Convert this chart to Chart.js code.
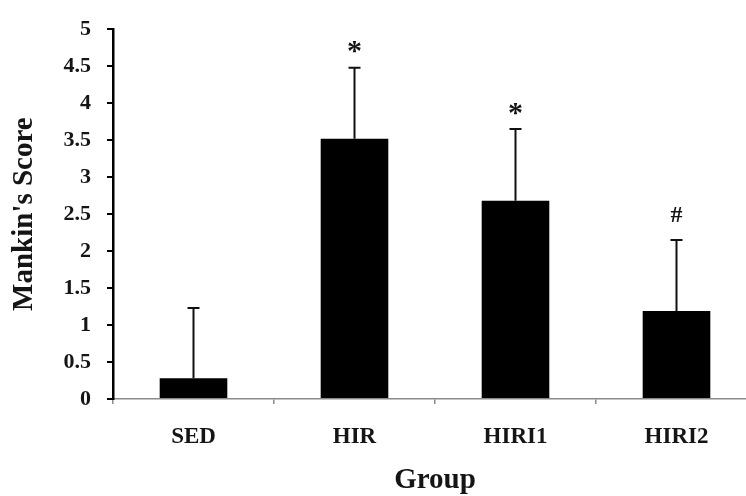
<!DOCTYPE html>
<html>
<head>
<meta charset="utf-8">
<script src="https://cdn.jsdelivr.net/npm/chart.js@4/dist/chart.umd.min.js"></script>
<style>
  html, body { margin: 0; padding: 0; background: #fff; overflow: hidden; }
  #wrap { width: 746px; height: 496px; overflow: hidden; }
</style>
</head>
<body>
<div id="wrap"><canvas id="chart" width="760" height="496"></canvas></div>
<script>
// values
const groups = ['SED', 'HIR', 'HIRI1', 'HIRI2'];
const scores = [0.28, 3.52, 2.68, 1.19];
const errors = [0.95, 0.96, 0.97, 0.96];
const marks = ['', '*', '*', '#'];
const yTicks = [0, 0.5, 1, 1.5, 2, 2.5, 3, 3.5, 4, 4.5, 5];

const serif = '"Liberation Serif", "Times New Roman", serif';
const ink = '#151515';

// error bars and significance marks on top of the bars
const errorBars = {
    id: 'errorBars',
    afterDatasetsDraw(chart) {
        const ctx = chart.ctx;
        const y = chart.scales.y;
        const meta = chart.getDatasetMeta(0);
        ctx.save();
        ctx.strokeStyle = '#111';
        ctx.lineWidth = 2;
        meta.data.forEach((bar, i) => {
            const top = y.getPixelForValue(scores[i] + errors[i]);
            ctx.beginPath();
            ctx.moveTo(bar.x, bar.y);
            ctx.lineTo(bar.x, top);
            ctx.moveTo(bar.x - 6, top);
            ctx.lineTo(bar.x + 6, top);
            ctx.stroke();
            if (marks[i]) {
                ctx.fillStyle = ink;
                ctx.textAlign = 'center';
                ctx.textBaseline = 'middle';
                if (marks[i] === '*') {
                    ctx.font = 'bold 30px ' + serif;
                    ctx.fillText(marks[i], bar.x, top - 15);
                } else {
                    ctx.font = 'bold 24px ' + serif;
                    ctx.fillText(marks[i], bar.x, top - 24);
                }
            }
        });
        ctx.restore();
    }
};

new Chart(document.getElementById('chart'), {
    type: 'bar',
    data: {
        labels: groups,
        datasets: [{
            data: scores,
            backgroundColor: '#000',
            borderWidth: 0,
            categoryPercentage: 1,
            barPercentage: 0.42
        }]
    },
    options: {
        responsive: false,
        animation: false,
        layout: { padding: { top: 21, right: 3, left: 0, bottom: 0 } },
        plugins: { legend: { display: false }, tooltip: { enabled: false } },
        scales: {
            x: {
                afterFit: s => { s.height = 97; },
                border: { color: '#8a8a8a', width: 1.5 },
                grid: { offset: true, drawOnChartArea: false, drawTicks: true, tickLength: 5, color: '#8a8a8a', lineWidth: 1.5 },
                ticks: { color: ink, padding: 19, font: { family: serif, size: 23, weight: 'bold' } },
                title: {
                    display: true, text: 'Group', color: ink,
                    padding: { top: 0, bottom: -2 },
                    font: { family: serif, size: 29, weight: 'bold' }
                }
            },
            y: {
                min: 0, max: 5,
                afterFit: s => { s.width = 113; },
                afterBuildTicks: s => { s.ticks = yTicks.map(v => ({ value: v })); },
                border: { color: '#000', width: 2.5 },
                grid: { drawOnChartArea: false, drawTicks: true, tickLength: 6, color: '#000', lineWidth: 2 },
                ticks: {
                    color: ink, padding: 16,
                    font: { family: serif, size: 22, weight: 'bold' },
                    callback: v => String(v)
                },
                title: {
                    display: true, text: "Mankin's Score", color: ink,
                    padding: { top: 7, bottom: 0 },
                    font: { family: serif, size: 29, weight: 'bold' }
                }
            }
        }
    },
    plugins: [errorBars]
});
</script>
</body>
</html>
